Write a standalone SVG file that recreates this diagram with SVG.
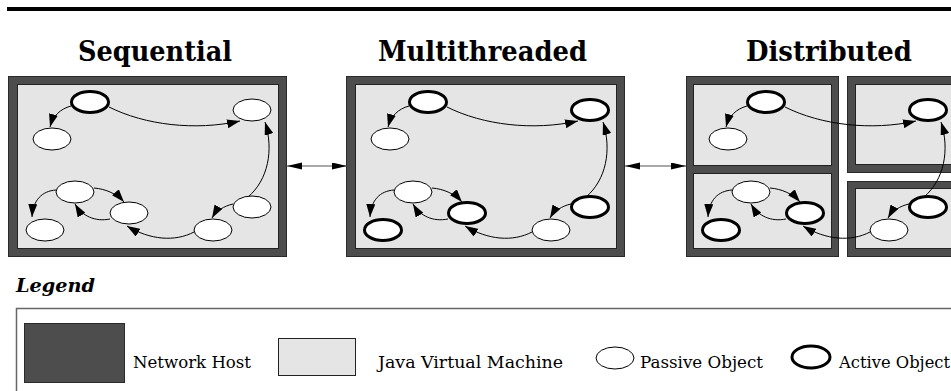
<svg xmlns="http://www.w3.org/2000/svg" width="951" height="391" viewBox="0 0 951 391">
<defs>
<style>
.host{fill:#4d4d4d;stroke:#2a2a2a;stroke-width:1}
.jvm{fill:#e5e5e5;stroke:#222;stroke-width:1}
.passive{fill:#fff;stroke:#000;stroke-width:1}
.active{fill:#fff;stroke:#000;stroke-width:3}
.conn{fill:none;stroke:#000;stroke-width:1;marker-end:url(#ah)}
.link{fill:none;stroke:#555;stroke-width:1.2;marker-start:url(#dh);marker-end:url(#dh)}
.title{font-family:"DejaVu Serif","Liberation Serif",serif;font-weight:bold;font-size:27px;fill:#000}
.lt{font-family:"DejaVu Serif","Liberation Serif",serif;font-size:16px;fill:#000}
</style>
<marker id="ah" markerWidth="14" markerHeight="9" refX="13" refY="4.5" orient="auto" markerUnits="userSpaceOnUse"><path d="M0,0 L13,4.5 L0,9 z" fill="#000"/></marker>
<marker id="dh" markerWidth="16" markerHeight="8" refX="15" refY="3.5" orient="auto-start-reverse" markerUnits="userSpaceOnUse"><path d="M0,0 L15,3.5 L0,7 z" fill="#000"/></marker>
</defs>
<rect x="7" y="7" width="944" height="4" fill="#000"/>
<text class="title" x="78" y="61" textLength="154" lengthAdjust="spacingAndGlyphs">Sequential</text>
<text class="title" x="378" y="61" textLength="209" lengthAdjust="spacingAndGlyphs">Multithreaded</text>
<text class="title" x="746" y="61" textLength="166" lengthAdjust="spacingAndGlyphs">Distributed</text>
<g id="panel-sequential">
<rect class="host" x="8.5" y="76.5" width="278" height="180"/>
<rect class="jvm" x="17.5" y="84.5" width="261" height="164"/>
</g>
<g id="panel-multithreaded">
<rect class="host" x="346.5" y="76.5" width="278" height="180"/>
<rect class="jvm" x="355.5" y="84.5" width="261" height="164"/>
</g>
<g id="panel-distributed">
<rect class="host" x="686.5" y="76.5" width="152" height="180"/>
<rect class="jvm" x="693.5" y="84.5" width="138" height="81"/>
<rect class="jvm" x="693.5" y="173.5" width="138" height="75"/>
<rect class="host" x="847.5" y="76.5" width="120" height="96"/>
<rect class="jvm" x="855.5" y="84.5" width="120" height="80"/>
<rect class="host" x="847.5" y="181.5" width="120" height="75"/>
<rect class="jvm" x="855.5" y="188.5" width="120" height="60"/>
</g>
<g id="connectors">
<line class="link" x1="287" y1="166" x2="347" y2="166"/>
<line class="link" x1="625" y1="166" x2="686" y2="166"/>
<g id="conn-seq">
<path class="conn" d="M71,106 C60,109 53,116 50,127"/>
<path class="conn" d="M109,107 C145,125 195,131 240,121"/>
<path class="conn" d="M248,197 C268,180 274,150 265,122"/>
<path class="conn" d="M233,204 C224,206 216,211 212,218"/>
<path class="conn" d="M194,232 C175,242 150,240 127,226"/>
<path class="conn" d="M110,219 C95,222 82,216 75,204"/>
<path class="conn" d="M94,188 C106,189 117,194 124,202"/>
<path class="conn" d="M56,190 C42,191 33,200 32,217"/>
</g>
<g id="conn-multi" transform="translate(338,0)">
<path class="conn" d="M71,106 C60,109 53,116 50,127"/>
<path class="conn" d="M109,107 C145,125 195,131 240,121"/>
<path class="conn" d="M248,197 C268,180 274,150 265,122"/>
<path class="conn" d="M233,204 C224,206 216,211 212,218"/>
<path class="conn" d="M194,232 C175,242 150,240 127,226"/>
<path class="conn" d="M110,219 C95,222 82,216 75,204"/>
<path class="conn" d="M94,188 C106,189 117,194 124,202"/>
<path class="conn" d="M56,190 C42,191 33,200 32,217"/>
</g>
<g id="conn-dist" transform="translate(676,0)">
<path class="conn" d="M71,106 C60,109 53,116 50,127"/>
<path class="conn" d="M109,107 C145,125 195,131 240,121"/>
<path class="conn" d="M248,197 C268,180 274,150 265,122"/>
<path class="conn" d="M233,204 C224,206 216,211 212,218"/>
<path class="conn" d="M194,232 C175,242 150,240 127,226"/>
<path class="conn" d="M110,219 C95,222 82,216 75,204"/>
<path class="conn" d="M94,188 C106,189 117,194 124,202"/>
<path class="conn" d="M56,190 C42,191 33,200 32,217"/>
</g>
</g>
<g id="nodes-sequential">
<g id="seq-n1"><ellipse class="active" cx="90" cy="102" rx="18.5" ry="10.5"/></g>
<g id="seq-n2"><ellipse class="passive" cx="52" cy="139" rx="19" ry="11"/></g>
<g id="seq-n3"><ellipse class="passive" cx="252" cy="110" rx="19" ry="11"/></g>
<g id="seq-n4"><ellipse class="passive" cx="75" cy="192" rx="19" ry="11"/></g>
<g id="seq-n5"><ellipse class="passive" cx="129" cy="213" rx="19" ry="11"/></g>
<g id="seq-n6"><ellipse class="passive" cx="45" cy="230" rx="19" ry="11"/></g>
<g id="seq-n7"><ellipse class="passive" cx="213" cy="230" rx="19" ry="11"/></g>
<g id="seq-n8"><ellipse class="passive" cx="252" cy="207" rx="19" ry="11"/></g>
</g>
<g id="nodes-multithreaded" transform="translate(338,0)">
<g id="mt-n1"><ellipse class="active" cx="90" cy="102" rx="18.5" ry="10.5"/></g>
<g id="mt-n2"><ellipse class="passive" cx="52" cy="139" rx="19" ry="11"/></g>
<g id="mt-n3"><ellipse class="active" cx="252" cy="110" rx="18.5" ry="10.5"/></g>
<g id="mt-n4"><ellipse class="passive" cx="75" cy="192" rx="19" ry="11"/></g>
<g id="mt-n5"><ellipse class="active" cx="129" cy="213" rx="18.5" ry="10.5"/></g>
<g id="mt-n6"><ellipse class="active" cx="45" cy="230" rx="18.5" ry="10.5"/></g>
<g id="mt-n7"><ellipse class="passive" cx="213" cy="230" rx="19" ry="11"/></g>
<g id="mt-n8"><ellipse class="active" cx="252" cy="207" rx="18.5" ry="10.5"/></g>
</g>
<g id="nodes-distributed" transform="translate(676,0)">
<g id="d-n1"><ellipse class="active" cx="90" cy="102" rx="18.5" ry="10.5"/></g>
<g id="d-n2"><ellipse class="passive" cx="52" cy="139" rx="19" ry="11"/></g>
<g id="d-n3"><ellipse class="active" cx="252" cy="110" rx="18.5" ry="10.5"/></g>
<g id="d-n4"><ellipse class="passive" cx="75" cy="192" rx="19" ry="11"/></g>
<g id="d-n5"><ellipse class="active" cx="129" cy="213" rx="18.5" ry="10.5"/></g>
<g id="d-n6"><ellipse class="active" cx="45" cy="230" rx="18.5" ry="10.5"/></g>
<g id="d-n7"><ellipse class="passive" cx="213" cy="230" rx="19" ry="11"/></g>
<g id="d-n8"><ellipse class="active" cx="252" cy="207" rx="18.5" ry="10.5"/></g>
</g>
<g id="legend">
<text x="16" y="292" font-family="DejaVu Serif, Liberation Serif, serif" font-weight="bold" font-style="italic" font-size="19" textLength="79" lengthAdjust="spacingAndGlyphs">Legend</text>
<rect x="16.5" y="308.5" width="950" height="100" fill="none" stroke="#666" stroke-width="1.5"/>
<rect class="host" x="24.5" y="323.5" width="100" height="59"/>
<text class="lt" x="133" y="368" textLength="118" lengthAdjust="spacingAndGlyphs">Network Host</text>
<rect class="jvm" x="278.5" y="338.5" width="77" height="37"/>
<text class="lt" x="378" y="368" textLength="185" lengthAdjust="spacingAndGlyphs">Java Virtual Machine</text>
<ellipse class="passive" cx="615" cy="358" rx="19" ry="11"/>
<text class="lt" x="640" y="368" textLength="123" lengthAdjust="spacingAndGlyphs">Passive Object</text>
<ellipse class="active" cx="811" cy="357" rx="19" ry="11"/>
<text class="lt" x="839" y="368" textLength="111" lengthAdjust="spacingAndGlyphs">Active Object</text>
</g>
</svg>
